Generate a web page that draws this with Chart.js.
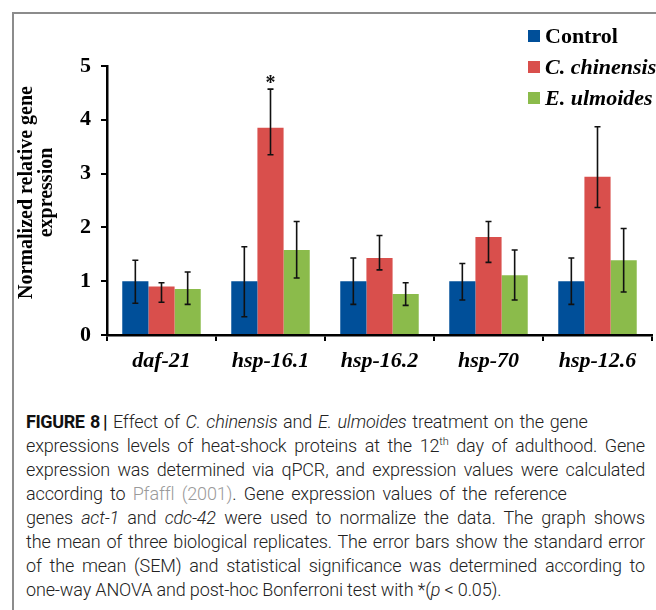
<!DOCTYPE html>
<html>
<head>
<meta charset="utf-8">
<script src="https://cdn.jsdelivr.net/npm/chart.js@4/dist/chart.umd.min.js"></script>
<style>
  html, body { margin: 0; padding: 0; background: #fff; }
  body { width: 656px; height: 610px; position: relative; overflow: hidden; }
  #frame { position: absolute; left: 12px; top: 12px; width: 700px; height: 700px;
           border-top: 2px solid #8c8c8c; border-left: 2px solid #8c8c8c; }
  #wrap { position: absolute; left: 0; top: 0; width: 656px; height: 395px; }
  #caption { position: absolute; left: 26px; top: 410px; width: 619px;
             font-family: Roboto, "Liberation Sans", sans-serif; font-weight: 300;
             font-size: 18px; letter-spacing: -0.15px; line-height: 24px; color: #222; }
  #caption div { white-space: nowrap; }
  #caption .j { text-align: justify; text-align-last: justify; }
  #caption b { font-weight: 700; color: #111; letter-spacing: -0.4px; }
  #caption .ref { color: #9a9a9a; }
  #caption sup { font-size: 11px; line-height: 0; }
</style>
</head>
<body>
<div id="frame"></div>
<div id="wrap"><canvas id="c" width="656" height="395"></canvas></div>
<div id="caption">
  <div style="word-spacing:1.5px"><b>FIGURE 8</b><b style="margin-left:3px">|</b> Effect of <i>C. chinensis</i> and <i>E. ulmoides</i> treatment on the gene</div>
  <div class="j">expressions levels of heat-shock proteins at the 12<sup>th</sup> day of adulthood. Gene</div>
  <div class="j">expression was determined via qPCR, and expression values were calculated</div>
  <div style="word-spacing:3px">according to <span class="ref">Pfaffl (2001)</span>. Gene expression values of the reference</div>
  <div class="j">genes <i>act-1</i> and <i>cdc-42</i> were used to normalize the data. The graph shows</div>
  <div class="j">the mean of three biological replicates. The error bars show the standard error</div>
  <div class="j">of the mean (SEM) and statistical significance was determined according to</div>
  <div>one-way ANOVA and post-hoc Bonferroni test with *(<i>p</i> &lt; 0.05).</div>
</div>
<script>
// ---- data ----
const categories = ['daf-21', 'hsp-16.1', 'hsp-16.2', 'hsp-70', 'hsp-12.6'];
const seriesNames = ['Control', 'C. chinensis', 'E. ulmoides'];

const control      = [1.00, 1.00, 1.00, 1.00, 1.00];
const controlLow   = [0.59, 0.34, 0.57, 0.65, 0.57];
const controlHigh  = [1.39, 1.64, 1.43, 1.33, 1.43];

const chinensis     = [0.90, 3.85, 1.43, 1.82, 2.94];
const chinensisLow  = [0.61, 3.35, 1.21, 1.35, 2.37];
const chinensisHigh = [0.97, 4.57, 1.85, 2.11, 3.87];

const ulmoides     = [0.855, 1.58, 0.76, 1.11, 1.39];
const ulmoidesLow  = [0.57, 1.06, 0.55, 0.65, 0.80];
const ulmoidesHigh = [1.17, 2.11, 0.97, 1.58, 1.98];

const chinensisSig = ['', '*', '', '', ''];

const yTicks = [0, 1, 2, 3, 4, 5];
const yTitle = ['Normalized relative gene', 'expression'];

const SERIF = '"Liberation Serif", "Times New Roman", serif';

const errorBars = {
  id: 'errorBars',
  afterDatasetsDraw(chart) {
    const ctx = chart.ctx, ys = chart.scales.y;
    chart.data.datasets.forEach((ds, i) => {
      const meta = chart.getDatasetMeta(i);
      meta.data.forEach((bar, j) => {
        const lo = ys.getPixelForValue(ds.errLow[j]);
        const hi = ys.getPixelForValue(ds.errHigh[j]);
        ctx.save();
        ctx.strokeStyle = '#111';
        ctx.lineWidth = 1.6;
        ctx.beginPath();
        ctx.moveTo(bar.x, lo); ctx.lineTo(bar.x, hi);
        ctx.moveTo(bar.x - 3, lo); ctx.lineTo(bar.x + 3, lo);
        ctx.moveTo(bar.x - 3, hi); ctx.lineTo(bar.x + 3, hi);
        ctx.stroke();
        if (ds.sig && ds.sig[j]) {
          ctx.fillStyle = '#111';
          ctx.font = 'bold 20px ' + SERIF;
          ctx.textAlign = 'center';
          ctx.textBaseline = 'alphabetic';
          ctx.fillText(ds.sig[j], bar.x, hi);
        }
        ctx.restore();
      });
    });
  }
};

const yTitlePlugin = {
  id: 'yTitlePlugin',
  afterDraw(chart) {
    const ctx = chart.ctx, area = chart.chartArea;
    const cy = (area.top + area.bottom) / 2 - 8;
    ctx.save();
    ctx.fillStyle = '#000';
    ctx.font = 'bold 20px ' + SERIF;
    ctx.textAlign = 'left';
    ctx.textBaseline = 'middle';
    yTitle.forEach((line, k) => {
      const w = ctx.measureText(line).width;
      ctx.save();
      ctx.translate(27 + 20 * k, cy);
      ctx.rotate(-Math.PI / 2);
      ctx.fillText(line, -w / 2, 0);
      ctx.restore();
    });
    ctx.restore();
  }
};

const customLegend = {
  id: 'customLegend',
  afterDraw(chart) {
    const ctx = chart.ctx;
    chart.data.datasets.forEach((ds, i) => {
      const cy = 36 + 31 * i;
      ctx.save();
      ctx.fillStyle = ds.backgroundColor;
      ctx.fillRect(528, cy - 6, 12, 12);
      ctx.fillStyle = '#000';
      ctx.font = (i === 0 ? 'bold ' : 'italic bold ') + '22px ' + SERIF;
      ctx.textAlign = 'left';
      ctx.textBaseline = 'middle';
      ctx.fillText(ds.label, 545, cy + 1);
      ctx.restore();
    });
  }
};

new Chart(document.getElementById('c'), {
  type: 'bar',
  data: {
    labels: categories,
    datasets: [
      { label: seriesNames[0], data: control, errLow: controlLow, errHigh: controlHigh,
        backgroundColor: '#004f99' },
      { label: seriesNames[1], data: chinensis, errLow: chinensisLow, errHigh: chinensisHigh,
        sig: chinensisSig, backgroundColor: '#d94f4c' },
      { label: seriesNames[2], data: ulmoides, errLow: ulmoidesLow, errHigh: ulmoidesHigh,
        backgroundColor: '#8bbb4b' }
    ]
  },
  options: {
    responsive: false,
    animation: false,
    events: [],
    layout: { padding: { left: 14, top: 66, right: 4, bottom: 0 } },
    datasets: { bar: { categoryPercentage: 0.72, barPercentage: 1.0, borderWidth: 0 } },
    plugins: { legend: { display: false }, tooltip: { enabled: false } },
    scales: {
      x: {
        offset: true,
        afterFit(s) { s.height = 60; },
        border: { display: true, color: '#000', width: 2.5 },
        grid: { display: true, offset: true, drawOnChartArea: false, drawTicks: true,
                tickLength: 6, color: '#000', lineWidth: 2 },
        ticks: { color: '#000', padding: 7, maxRotation: 0,
                 font: { family: SERIF, size: 22, style: 'italic', weight: 'bold' } }
      },
      y: {
        min: 0, max: 5,
        afterFit(s) { s.width = 93; },
        afterBuildTicks(s) { s.ticks = yTicks.map(v => ({ value: v })); },
        border: { display: true, color: '#000', width: 2.5 },
        grid: { display: true, drawOnChartArea: false, drawTicks: true,
                tickLength: 6, color: '#000', lineWidth: 2 },
        ticks: { color: '#000', padding: 10,
                 font: { family: SERIF, size: 22, weight: 'bold' } },
        title: { display: false }
      }
    }
  },
  plugins: [errorBars, yTitlePlugin, customLegend]
});
</script>
</body>
</html>
